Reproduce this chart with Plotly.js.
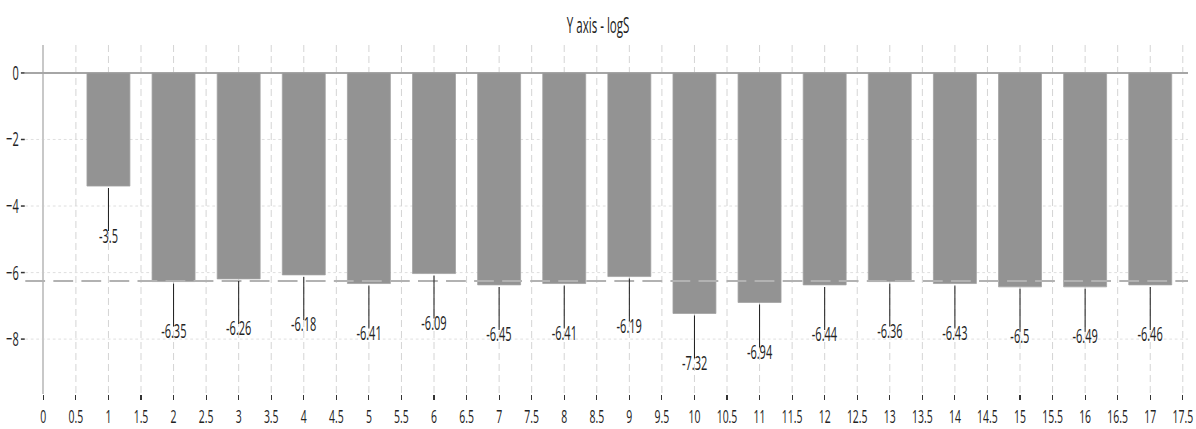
<!DOCTYPE html>
<html>
<head>
<meta charset="utf-8">
<script src="https://cdn.plot.ly/plotly-3.0.1.min.js"></script>
<style>
  html, body { margin: 0; padding: 0; overflow: hidden; background: #fff; }
  #chart { width: 2175px; height: 429px; }
</style>
</head>
<body>
<div id="chart"></div>
<script>
// ---- data ----
const categories = [1, 2, 3, 4, 5, 6, 7, 8, 9, 10, 11, 12, 13, 14, 15, 16, 17];
const barValues = [-3.40, -6.27, -6.19, -6.07, -6.33, -6.03, -6.37, -6.33, -6.12, -7.23, -6.90, -6.37, -6.27, -6.33, -6.43, -6.43, -6.37];
const labelValues = [-3.5, -6.35, -6.26, -6.18, -6.41, -6.09, -6.45, -6.41, -6.19, -7.32, -6.94, -6.44, -6.36, -6.43, -6.5, -6.49, -6.46];
const thresholdValue = -6.25;
const yTickValues = [0, -2, -4, -6, -8];
const chartTitle = 'Y axis - logS';

// horizontal squeeze to mimic the condensed look of the original
const SX = 0.55;

const FONT = 'Open Sans, Noto Sans, DejaVu Sans, sans-serif';

const annotations = [];
categories.forEach((c, i) => {
  // connector line from bar end towards label
  annotations.push({
    x: c, y: barValues[i], xref: 'x', yref: 'y',
    text: ' ', font: {size: 1},
    showarrow: true, arrowhead: 0, arrowwidth: 1.8, arrowcolor: '#1a1a1a',
    ax: 0, ay: 47, standoff: 2
  });
  // value label
  annotations.push({
    x: c, y: barValues[i], xref: 'x', yref: 'y',
    text: String(labelValues[i]),
    showarrow: false, yshift: -49,
    xanchor: 'center', yanchor: 'middle',
    font: {family: FONT, size: 20, color: '#222'}
  });
});

const trace = {
  type: 'bar',
  x: categories,
  y: barValues,
  width: 0.66,
  marker: {color: '#939393', line: {color: '#a2a2a2', width: 1}},
  hoverinfo: 'none'
};

const layout = {
  width: 2175,
  height: 429,
  margin: {l: 45.5, r: 14.5, t: 45, b: 35, pad: 0},
  paper_bgcolor: '#ffffff',
  plot_bgcolor: '#ffffff',
  showlegend: false,
  title: {
    text: chartTitle,
    font: {family: FONT, size: 21, color: '#222'},
    x: 0.5, xref: 'container', xanchor: 'center',
    y: 1 - 26 / 429, yref: 'container', yanchor: 'middle'
  },
  xaxis: {
    range: [-0.277, 17.58],
    tick0: 0, dtick: 0.5,
    showgrid: true, gridcolor: '#d4d4d4', gridwidth: 1.8, griddash: '7px,4px',
    zeroline: true, zerolinecolor: '#c8c8c8', zerolinewidth: 4,
    showline: false,
    ticks: 'outside', ticklen: 5, tickwidth: 2, tickcolor: '#333',
    tickfont: {family: FONT, size: 19, color: '#222'},
    fixedrange: true
  },
  yaxis: {
    range: [-9.65, 0.84],
    tickvals: yTickValues,
    showgrid: true, gridcolor: '#d6d6d6', gridwidth: 1, griddash: '5px,5px',
    zeroline: true, zerolinecolor: '#a6a6a6', zerolinewidth: 2,
    showline: false,
    ticks: 'outside', ticklen: 7, tickwidth: 1.5, tickcolor: '#333',
    tickfont: {family: FONT, size: 20, color: '#222'},
    fixedrange: true
  },
  shapes: [{
    type: 'line', xref: 'paper', yref: 'y',
    x0: 0, x1: 1, y0: thresholdValue, y1: thresholdValue,
    line: {color: '#b2b2b2', width: 2, dash: '36px,15px'},
    layer: 'above'
  }],
  annotations: annotations
};

Plotly.newPlot('chart', [trace], layout, {staticPlot: true, displayModeBar: false}).then(function () {
  const el = document.getElementById('chart');
  el.style.transformOrigin = '0 0';
  el.style.transform = 'scaleX(' + SX + ')';
});
</script>
</body>
</html>
